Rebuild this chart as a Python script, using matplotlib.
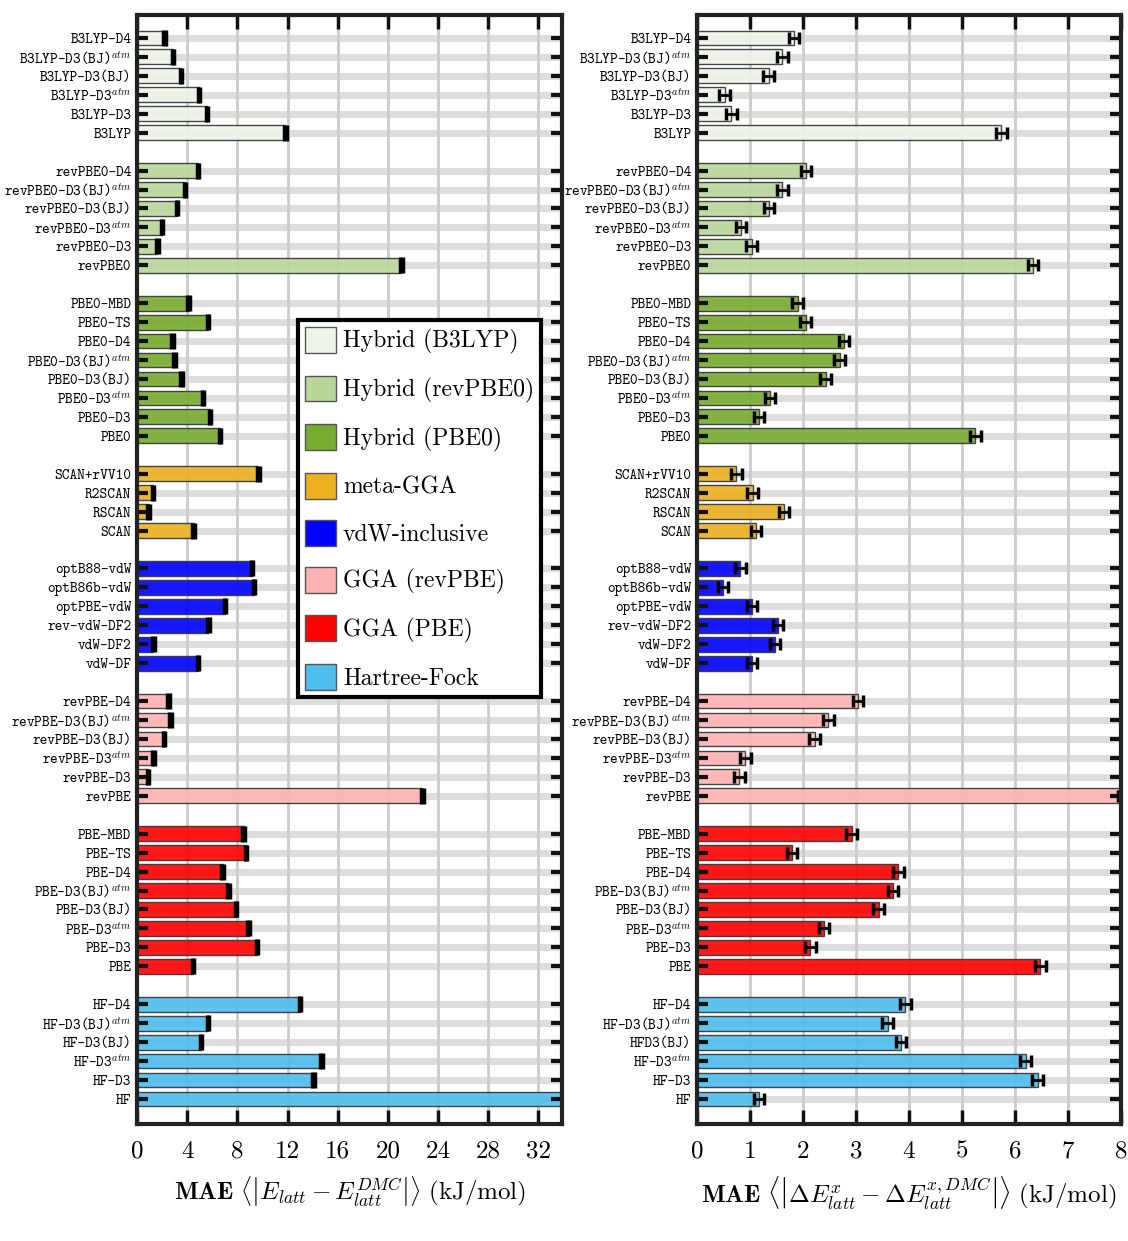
import numpy as np
import matplotlib.pyplot as plt
from matplotlib.patches import Patch

plt.rcParams['mathtext.fontset'] = 'cm'
plt.rcParams['axes.unicode_minus'] = False

# groups, top to bottom
group_names = ['Hybrid (B3LYP)', 'Hybrid (revPBE0)', 'Hybrid (PBE0)', 'meta-GGA',
               'vdW-inclusive', 'GGA (revPBE)', 'GGA (PBE)', 'Hartree-Fock']
group_colors = ['#eef4e8', '#b9d79b', '#77ac30', '#edb120',
                '#0000ff', '#ffb3b3', '#ff0000', '#4dbeee']
group_sizes = [6, 6, 8, 4, 6, 6, 8, 6]

labels_left = [
    'B3LYP-D4', 'B3LYP-D3(BJ)$^{atm}$', 'B3LYP-D3(BJ)', 'B3LYP-D3$^{atm}$', 'B3LYP-D3', 'B3LYP',
    'revPBE0-D4', 'revPBE0-D3(BJ)$^{atm}$', 'revPBE0-D3(BJ)', 'revPBE0-D3$^{atm}$', 'revPBE0-D3', 'revPBE0',
    'PBE0-MBD', 'PBE0-TS', 'PBE0-D4', 'PBE0-D3(BJ)$^{atm}$', 'PBE0-D3(BJ)', 'PBE0-D3$^{atm}$', 'PBE0-D3', 'PBE0',
    'SCAN+rVV10', 'R2SCAN', 'RSCAN', 'SCAN',
    'optB88-vdW', 'optB86b-vdW', 'optPBE-vdW', 'rev-vdW-DF2', 'vdW-DF2', 'vdW-DF',
    'revPBE-D4', 'revPBE-D3(BJ)$^{atm}$', 'revPBE-D3(BJ)', 'revPBE-D3$^{atm}$', 'revPBE-D3', 'revPBE',
    'PBE-MBD', 'PBE-TS', 'PBE-D4', 'PBE-D3(BJ)$^{atm}$', 'PBE-D3(BJ)', 'PBE-D3$^{atm}$', 'PBE-D3', 'PBE',
    'HF-D4', 'HF-D3(BJ)$^{atm}$', 'HF-D3(BJ)', 'HF-D3$^{atm}$', 'HF-D3', 'HF',
]
labels_right = labels_left[:46] + ['HFD3(BJ)'] + labels_left[47:]

# MAE of lattice energy (kJ/mol)
mae_latt = [
    2.17, 2.86, 3.50, 4.95, 5.59, 11.82,
    4.87, 3.82, 3.18, 1.99, 1.62, 21.09,
    4.11, 5.64, 2.81, 3.00, 3.55, 5.25, 5.83, 6.60,
    9.68, 1.27, 0.92, 4.51,
    9.16, 9.31, 7.02, 5.69, 1.30, 4.88,
    2.49, 2.66, 2.14, 1.33, 0.87, 22.75,
    8.50, 8.70, 6.82, 7.28, 7.89, 8.90, 9.57, 4.45,
    13.00, 5.64, 5.12, 14.71, 14.08, 34.50,
]
latt_err = 0.1

# MAE of the polymorph energy differences (kJ/mol)
mae_rel = [
    1.83, 1.61, 1.35, 0.52, 0.65, 5.74,
    2.06, 1.61, 1.36, 0.83, 1.03, 6.34,
    1.90, 2.05, 2.77, 2.69, 2.43, 1.38, 1.17, 5.25,
    0.74, 1.05, 1.64, 1.11,
    0.82, 0.49, 1.04, 1.53, 1.47, 1.04,
    3.04, 2.48, 2.22, 0.91, 0.80, 8.05,
    2.92, 1.79, 3.80, 3.70, 3.43, 2.40, 2.14, 6.48,
    3.93, 3.60, 3.85, 6.20, 6.43, 1.17,
]
rel_err = 0.1

# row positions, one empty slot between groups
pos = []
k = 0
for n in group_sizes:
    pos += list(range(k, k + n))
    k += n + 1
pos = np.array(pos)
bar_colors = np.repeat(group_colors, group_sizes)


def draw_panel(ax, labels, values, err, xmax, xticks, xlabel, cap):
    # grid drawn by hand so the ticks can sit on top of the bars
    for p in pos:
        ax.axhline(p, color='#dddddd', linewidth=5, zorder=0.5)
    for t in xticks:
        ax.axvline(t, color='#cccccc', linewidth=2, zorder=0.6)
    ax.barh(pos, values, height=0.78, color=bar_colors, edgecolor='#333333',
            linewidth=1, alpha=0.9, zorder=2)
    ax.errorbar(values, pos, xerr=err, fmt='none', ecolor='black',
                elinewidth=2, capsize=cap, capthick=2.5, zorder=3)
    ax.set_axisbelow(False)
    ax.set_xlim(0, xmax)
    ax.set_ylim(pos[-1] + 1.32, -1.21)
    ax.set_yticks(pos)
    ax.set_yticklabels(labels, fontfamily='cmtt10', fontsize=10.5)
    ax.set_xticks(xticks)
    ax.set_xticklabels([str(t) for t in xticks], fontfamily='cmr10', fontsize=18)
    ax.tick_params(axis='y', direction='in', length=8, width=3,
                   left=True, right=True, pad=4, color='#111111')
    ax.tick_params(axis='x', direction='in', length=10, width=2.5,
                   top=True, bottom=True, pad=12, color='#111111')
    for s in ax.spines.values():
        s.set_linewidth(3)
        s.set_color('#222222')
        s.set_zorder(4)
    ax.set_xlabel(xlabel, fontsize=18, labelpad=8)


fig = plt.figure(figsize=(11.28, 12.41), dpi=100)
ax1 = fig.add_axes([0.1215, 0.0943, 0.3768, 0.8936])
ax2 = fig.add_axes([0.6179, 0.0943, 0.3759, 0.8936])

draw_panel(ax1, labels_left, mae_latt, latt_err, 33.9, list(range(0, 33, 4)),
           r'$\mathbf{MAE}\ \left\langle \left| E_{latt} - E_{latt}^{DMC} \right| \right\rangle\ \mathrm{(kJ/mol)}$',
           6)
draw_panel(ax2, labels_right, mae_rel, rel_err, 8, list(range(0, 9)),
           r'$\mathbf{MAE}\ \left\langle \left| \Delta E_{latt}^{x} - \Delta E_{latt}^{x,DMC} \right| \right\rangle\ \mathrm{(kJ/mol)}$',
           4.5)

handles = [Patch(facecolor=c, edgecolor='#555555', linewidth=1) for c in group_colors]
leg = ax1.legend(handles, group_names, loc='upper left', bbox_to_anchor=(0.379, 0.725),
                 borderaxespad=0, fancybox=False, framealpha=1, edgecolor='black',
                 prop={'family': 'cmr10', 'size': 17}, handlelength=1.3, handleheight=1.3,
                 handletextpad=0.3, labelspacing=0.9, borderpad=0.3)
leg.get_frame().set_linewidth(3)
leg.set_zorder(5)

fig.savefig('out.png', dpi=100)
